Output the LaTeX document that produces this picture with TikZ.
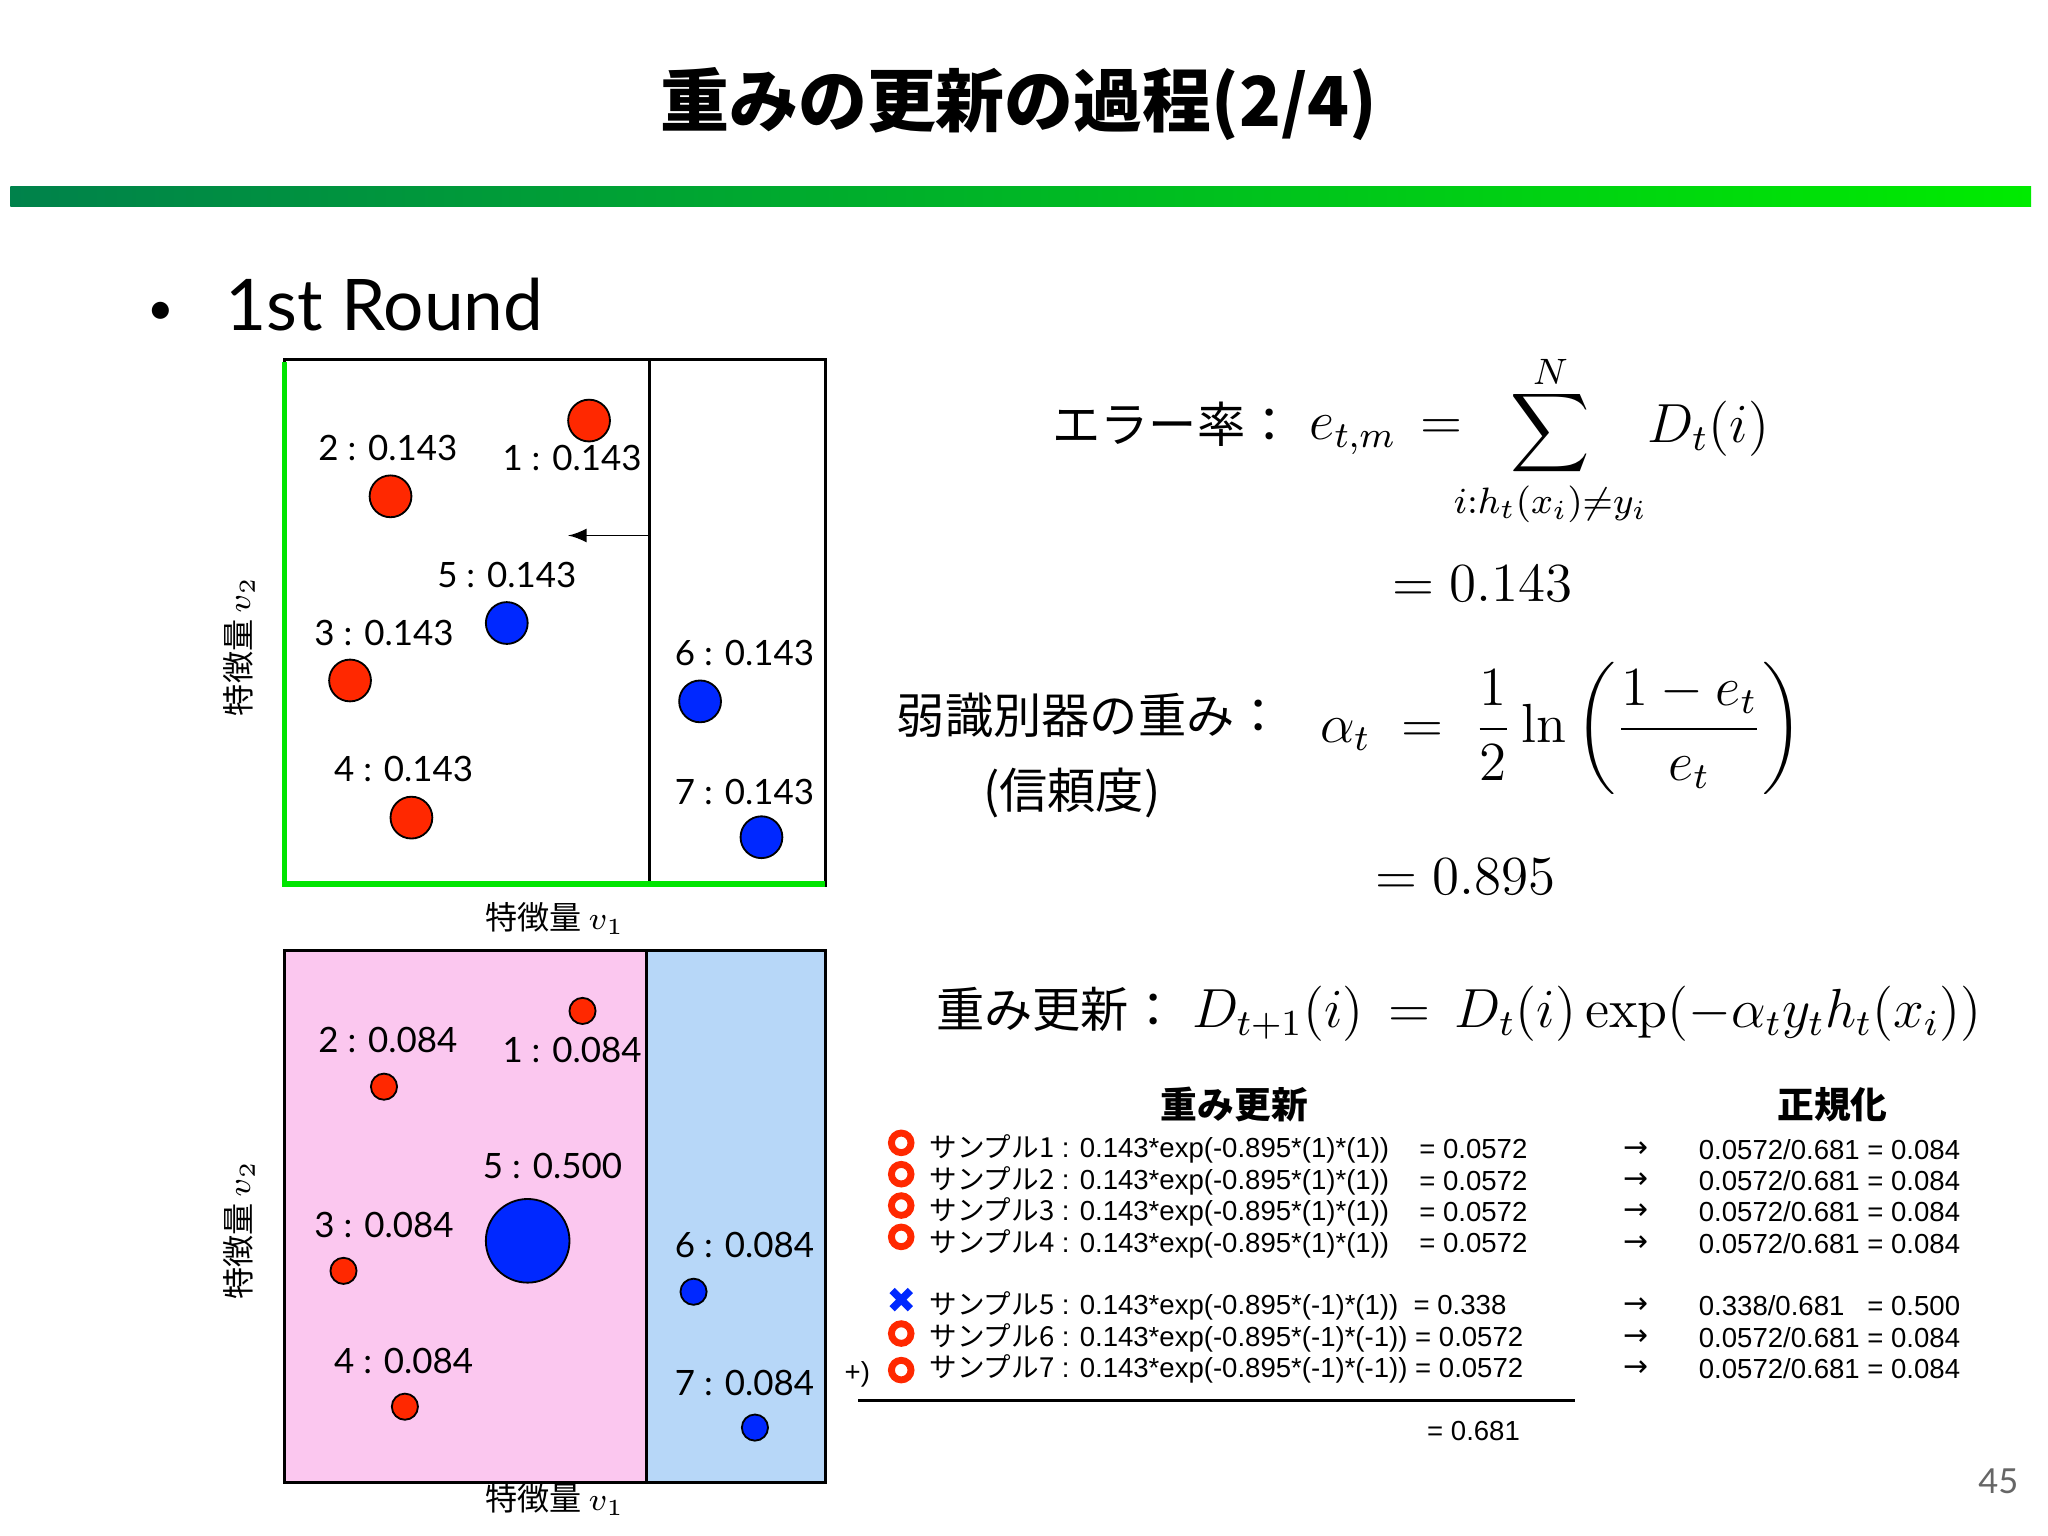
\documentclass[tikz,border=0pt]{standalone}
\usepackage{amsmath}
\usepackage[no-math]{fontspec}
\setmainfont{Lato}
\newfontfamily\jp{Noto Sans CJK JP}
\newfontfamily\tbl{Liberation Sans}
\newfontfamily\djv{DejaVu Sans}
\newcommand{\fs}[1]{\fontsize{#1}{#1}\selectfont}
\definecolor{rd}{RGB}{255,40,0}
\definecolor{bl}{RGB}{0,40,255}
\definecolor{pk}{RGB}{251,199,239}
\definecolor{lb}{RGB}{183,215,248}
\definecolor{gA}{RGB}{0,130,75}
\definecolor{gB}{RGB}{0,235,0}
\begin{document}
\begin{tikzpicture}[x=0.01cm,y=-0.01cm,
  lab/.style={font=\fs{7.6pt}},
  ax/.style={font=\jp\fs{7pt}},
  rdot/.style={circle,draw=black,fill=rd,line width=0.4pt,inner sep=0pt},
  bdot/.style={circle,draw=black,fill=bl,line width=0.4pt,inner sep=0pt},
  row/.style={anchor=west,font=\jp\fs{6pt},inner sep=0pt},
  arr/.style={anchor=west,font=\djv\fs{6.5pt},inner sep=0pt},
  ring/.style={circle,draw=rd,line width=1.5pt,minimum size=0.15cm,inner sep=0pt},
  jt/.style={font=\jp\fs{10.5pt},anchor=west,inner sep=0pt}]
\useasboundingbox (0,0) rectangle (1568,1176);
% title
\node[font=\jp\bfseries\fs{15pt}] (title) at (780,80) {重みの更新の過程(2/4)};
\shade[left color=gA,right color=gB] (8,143) rectangle (1555,158);
\node[font=\fs{10pt}] (bul) at (123,240) {•};
\node[font=\fs{15.5pt},anchor=west,inner sep=0pt] (round) at (172,233) {1st Round};
% top plot
\draw[line width=0.6pt] (218,275) rectangle (632,678);
\draw[line width=0.6pt] (497,275) -- (497,678);
\draw[green!90!black,line width=1.2pt] (218,277) -- (218,677) -- (632,677);
\coordinate (sp) at (497,410); \coordinate (se) at (435,410);
\draw[-latex,line width=0.4pt] (sp) -- (se);
\node[rdot,minimum size=0.32cm] (a1) at (451,322) {};
\node[rdot,minimum size=0.32cm] (a2) at (299,380) {};
\node[rdot,minimum size=0.32cm] (a3) at (268,521) {};
\node[rdot,minimum size=0.32cm] (a4) at (315,626) {};
\node[bdot,minimum size=0.32cm] (a5) at (388,477) {};
\node[bdot,minimum size=0.32cm] (a6) at (536,537) {};
\node[bdot,minimum size=0.32cm] (a7) at (583,641) {};
\node[lab] (l2) at (297,343) {2 : 0.143};
\node[lab] (l1) at (438,351) {1 : 0.143};
\node[lab] (l5) at (388,440) {5 : 0.143};
\node[lab] (l3) at (294,485) {3 : 0.143};
\node[lab] (l6) at (570,500) {6 : 0.143};
\node[lab] (l4) at (309,589) {4 : 0.143};
\node[lab] (l7) at (570,606) {7 : 0.143};
\node[ax] (x1) at (425,703) {特徴量$\,v_1$};
\node[ax,rotate=90] (y1) at (183,495) {特徴量$\,v_2$};
% bottom plot
\fill[pk] (218,728) rectangle (495,1135);
\fill[lb] (495,728) rectangle (632,1135);
\draw[line width=0.6pt] (218,728) rectangle (632,1135);
\draw[line width=0.6pt] (495,728) -- (495,1135);
\node[rdot,minimum size=0.2cm] (b1) at (446,774) {};
\node[rdot,minimum size=0.2cm] (b2) at (294,832) {};
\node[rdot,minimum size=0.2cm] (b3) at (263,973) {};
\node[rdot,minimum size=0.2cm] (b4) at (310,1077) {};
\node[bdot,minimum size=0.64cm] (b5) at (404,950) {};
\node[bdot,minimum size=0.2cm] (b6) at (531,989) {};
\node[bdot,minimum size=0.2cm] (b7) at (578,1093) {};
\node[lab] (m2) at (297,796) {2 : 0.084};
\node[lab] (m1) at (438,804) {1 : 0.084};
\node[lab] (m5) at (423,893) {5 : 0.500};
\node[lab] (m3) at (294,938) {3 : 0.084};
\node[lab] (m6) at (570,953) {6 : 0.084};
\node[lab] (m4) at (309,1042) {4 : 0.084};
\node[lab] (m7) at (570,1059) {7 : 0.084};
\node[ax] (x2) at (425,1148) {特徴量$\,v_1$};
\node[ax,rotate=90] (y2) at (183,942) {特徴量$\,v_2$};
% formulas
\node[jt] (er) at (805,325) {エラー率：};
\node[font=\fs{11.5pt},anchor=west,inner sep=0pt] (em) at (1002,333) {$e_{t,m}\,=$};
\node[font=\fs{11.5pt}] (sum) at (1187,351) {$\displaystyle\sum_{i:h_t(x_i)\neq y_i}$};
\node[font=\fs{8pt}] (nn) at (1187,285) {$N$};
\node[font=\fs{11.5pt}] (dt) at (1308,328) {$D_t(i)$};
\node[font=\fs{11.5pt}] (e1) at (1135,447) {$=0.143$};
\node[jt] (wk) at (686,548) {弱識別器の重み：};
\node[jt] (sh) at (752,607) {(信頼度)};
\node[font=\fs{12pt},anchor=west,inner sep=0pt] (al) at (1010,558) {$\alpha_t\;=\;\dfrac{1}{2}\ln\left(\dfrac{1-e_t}{e_t}\right)$};
\node[font=\fs{11.5pt}] (e2) at (1122,671) {$=0.895$};
\node[jt] (ko) at (716,773) {重み更新：};
\node[font=\fs{12pt},anchor=west,inner sep=0pt] (up) at (912,776) {$D_{t+1}(i)\,=\,D_t(i)\exp(-\alpha_t y_t h_t(x_i))$};
% table
\node[font=\jp\bfseries\fs{8pt}] (h1) at (945,846) {重み更新};
\node[font=\jp\bfseries\fs{8pt}] (h2) at (1403,846) {正規化};
\foreach \y/\n in {880/1,904/2,928/3,952/4}{
 \node[ring] (o\n) at (690,\y-5) {};
 \node[row] (t\n) at (711,\y) {サンプル\n{\tbl\ : 0.143*exp(-0.895*(1)*(1))}};
 \node[row] (v\n) at (1086,\y) {\tbl = 0.0572};
 \node[arr] (r\n) at (1242,\y) {→};
 \node[row] (n\n) at (1300,\y) {\tbl 0.0572/0.681 = 0.084};
}
\draw[bl,line width=1.6pt] (683,988) -- (697,1002) (697,988) -- (683,1002);
\node[row] (t5) at (711,1000) {サンプル5{\tbl\ : 0.143*exp(-0.895*(-1)*(1))\ \ = 0.338}};
\node[arr] (r5) at (1242,1000) {→};
\node[row] (n5) at (1300,1000) {\tbl 0.338/0.681\ \ \ = 0.500};
\node[ring] (o6) at (690,1021) {};
\node[row] (t6) at (711,1024) {サンプル6{\tbl\ : 0.143*exp(-0.895*(-1)*(-1)) = 0.0572}};
\node[arr] (r6) at (1242,1024) {→};
\node[row] (n6) at (1300,1024) {\tbl 0.0572/0.681 = 0.084};
\node[ring] (o7) at (690,1049) {};
\node[row] (pl) at (646,1052) {\tbl +)};
\node[row] (t7) at (711,1048) {サンプル7{\tbl\ : 0.143*exp(-0.895*(-1)*(-1)) = 0.0572}};
\node[arr] (r7) at (1242,1048) {→};
\node[row] (n7) at (1300,1048) {\tbl 0.0572/0.681 = 0.084};
\coordinate (la) at (657,1072); \coordinate (lb2) at (1206,1072);
\draw[line width=0.6pt] (la) -- (lb2);
\node[row] (tot) at (1092,1096) {\tbl = 0.681};
\node[font=\fs{7.5pt},text=black!60] (pg) at (1530,1134) {45};
\end{tikzpicture}
\end{document}
